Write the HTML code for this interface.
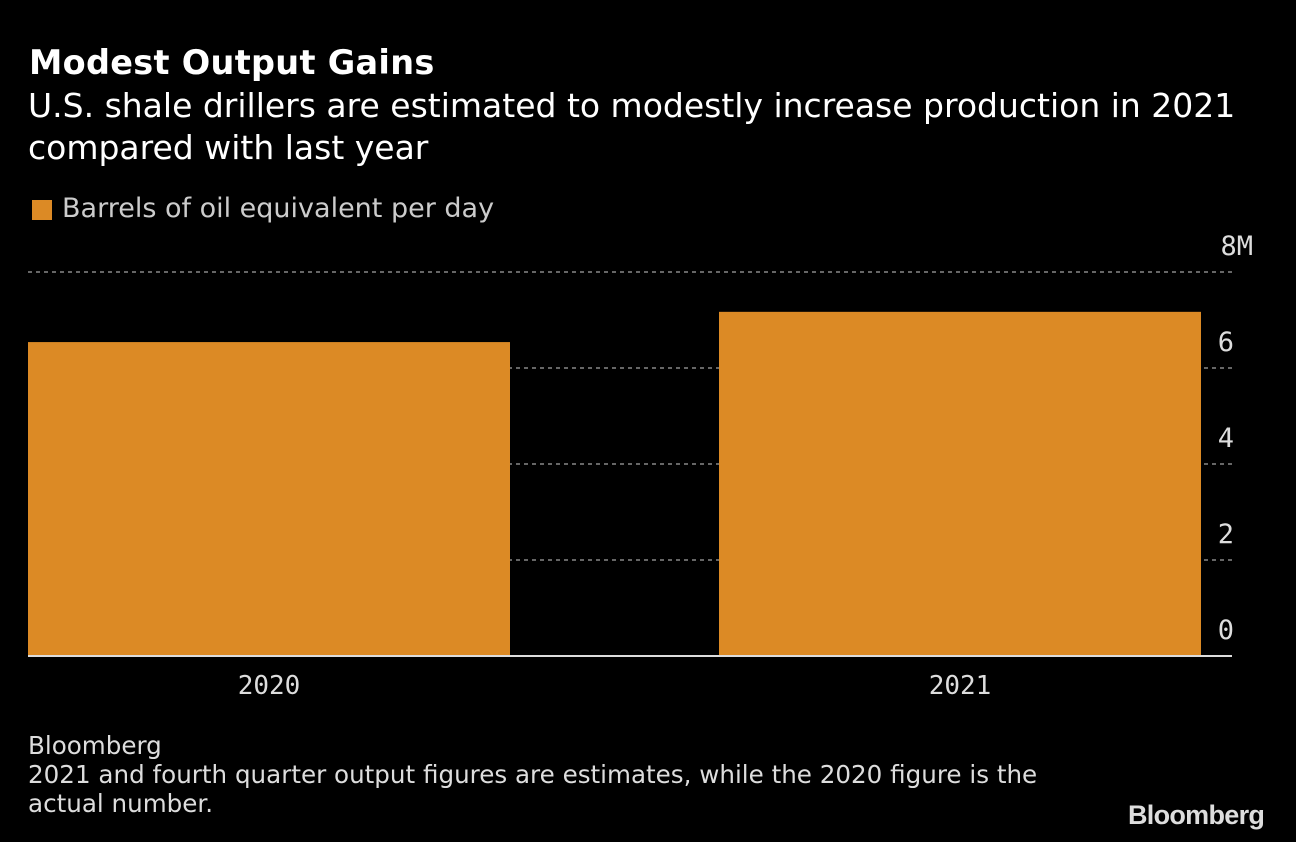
<!DOCTYPE html>
<html><head><meta charset="utf-8"><style>
html,body{margin:0;padding:0;background:#000;width:1296px;height:842px;overflow:hidden}
body{font-family:"Liberation Sans","DejaVu Sans",sans-serif;color:#fff;position:relative}
.t{position:absolute;white-space:nowrap}
</style></head><body>
<div class="t" style="left:29px;top:43px;font-size:33.5px;font-weight:bold;font-family:'DejaVu Sans',sans-serif;letter-spacing:0.3px">Modest Output Gains</div>
<div class="t" style="left:28px;top:85px;font-size:33px;line-height:42px;font-family:'DejaVu Sans',sans-serif">U.S. shale drillers are estimated to modestly increase production in 2021<br>compared with last year</div>
<div style="position:absolute;left:32px;top:200px;width:20px;height:20px;background:#dc8a25"></div>
<div class="t" style="left:62px;top:193px;font-size:27px;color:#ccc;font-family:'DejaVu Sans',sans-serif">Barrels of oil equivalent per day</div>
<svg id="chart" width="1296" height="842" style="position:absolute;left:0;top:0"></svg>
<div class="t" style="left:28px;top:731px;font-size:24.6px;line-height:29px;color:#ddd;font-family:'DejaVu Sans',sans-serif">Bloomberg<br>2021 and fourth quarter output figures are estimates, while the 2020 figure is the<br>actual number.</div>
<div class="t" style="left:1128px;top:800px;font-size:27px;font-weight:bold;color:#ddd;letter-spacing:-0.7px">Bloomberg</div>
<script>
const categories=["2020","2021"];
const values=[6.54,7.17];
const ticks=[0,2,4,6,8];
const tickLabels=["0","2","4","6","8M"];
const svg=document.getElementById('chart');
const NS='http://www.w3.org/2000/svg';
const y0=656,pxPer=48,left=28,right=1232;
function y(v){return y0-v*pxPer;}
function x(i){return left+i*691;}
const bw=482;
function mk(t,a){const e=document.createElementNS(NS,t);for(const k in a)e.setAttribute(k,a[k]);svg.appendChild(e);return e;}
ticks.forEach((t,i)=>{
  if(t>0){const l=mk('line',{x1:left,x2:right,y1:y(t),y2:y(t),stroke:'#888','stroke-width':1.5,'stroke-dasharray':'4,4'});
  
  }
  const tx=mk('text',{x:t===8?1253:1234,y:y(t)-17,'text-anchor':'end','font-size':27,fill:'#ddd','font-family':'DejaVu Sans Mono, monospace'});
  tx.textContent=tickLabels[i];
  
  
});
categories.forEach((c,i)=>{
  const r=mk('rect',{x:x(i),y:y(values[i]),width:bw,height:values[i]*pxPer,fill:'#dc8a25'});
  
  
  const tx=mk('text',{x:x(i)+bw/2,y:694,'text-anchor':'middle','font-size':26,fill:'#ddd','font-family':'DejaVu Sans Mono, monospace'});
  tx.textContent=c;
  
  
});
const ax=mk('line',{x1:left,x2:right,y1:y0,y2:y0,stroke:'#ddd','stroke-width':2});


</script>
</body></html>
